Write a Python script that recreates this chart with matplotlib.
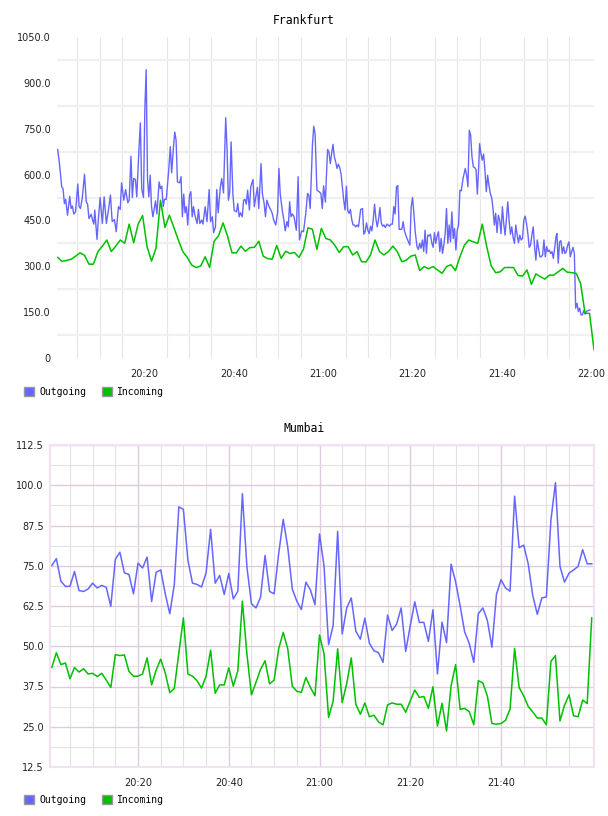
import matplotlib
matplotlib.use("Agg")
import matplotlib.pyplot as plt
import numpy as np
from matplotlib.patches import Patch
from matplotlib.ticker import FixedLocator, FuncFormatter

# czas w minutach po 20:00
fr_out_t = [0.6, 1.0, 1.5, 1.8, 2.1, 2.4, 2.8, 3.3, 3.6, 3.9,
            4.2, 4.6, 5.1, 5.4, 5.7, 6.1, 6.6, 7.0, 7.3, 7.6,
            8.1, 8.4, 8.7, 8.9, 9.4, 9.7, 10.1, 10.6, 11.0, 11.5,
            11.9, 12.4, 12.8, 13.3, 13.7, 14.2, 14.6, 14.9, 15.4, 15.8,
            16.3, 16.6, 17.0, 17.3, 17.6, 18.0, 18.3, 18.8, 19.1, 19.4,
            19.8, 20.1, 20.4, 20.7, 21.0, 21.3, 21.6, 21.9, 22.2, 22.5,
            22.8, 23.3, 23.6, 23.9, 24.2, 24.5, 24.9, 25.4, 25.8, 26.1,
            26.5, 26.8, 27.1, 27.4, 27.9, 28.2, 28.5, 28.8, 29.1, 29.4,
            29.7, 30.1, 30.4, 30.7, 31.0, 31.3, 31.8, 32.1, 32.4, 32.8,
            33.1, 33.6, 34.0, 34.5, 34.8, 35.2, 35.5, 35.9, 36.2, 36.5,
            37.0, 37.3, 37.7, 38.2, 38.5, 38.8, 39.1, 39.4, 39.8, 40.1,
            40.6, 40.9, 41.2, 41.5, 41.9, 42.2, 42.5, 42.8, 43.1, 43.5,
            43.8, 44.3, 44.6, 45.0, 45.3, 45.6, 46.1, 46.4, 46.8, 47.1,
            47.4, 47.9, 48.3, 48.6, 48.9, 49.4, 49.8, 50.1, 50.4, 50.9,
            51.2, 51.5, 51.9, 52.2, 52.5, 52.8, 53.1, 53.5, 54.0, 54.4,
            54.7, 55.2, 55.6, 56.1, 56.5, 56.8, 57.1, 57.6, 57.9, 58.2,
            58.6, 59.1, 59.5, 59.8,
            60.1, 60.5, 60.8, 61.0, 61.3, 61.6, 61.9, 62.2, 62.5, 62.8,
            63.1, 63.4, 63.7, 64.0, 64.3, 64.6, 64.9, 65.2, 65.5, 65.8,
            66.1, 66.4, 66.7, 67.0, 67.3, 67.6, 67.9, 68.4, 68.8, 69.1,
            69.4, 69.7, 70.0, 70.3, 70.6, 70.9, 71.2, 71.5, 71.8, 72.1,
            72.4, 72.7, 73.0, 73.3, 73.6, 73.9, 74.3, 74.8, 75.2, 75.5,
            75.8, 76.1, 76.4, 76.7, 77.0, 77.6, 77.9, 78.2, 78.6, 79.1,
            79.4, 79.7, 80.0, 80.3, 80.6, 81.0, 81.3, 81.6, 81.9, 82.2,
            82.5, 82.8, 83.1, 83.4, 83.7, 84.0, 84.3, 84.6, 84.9, 85.2,
            85.5, 85.8, 86.1, 86.4, 86.7, 87.0, 87.3, 87.6, 87.9, 88.2,
            88.5, 88.8, 89.1, 89.4, 89.7, 90.0, 90.3, 90.6, 90.9, 91.3,
            91.8, 92.1, 92.4, 92.7, 93.0, 93.3, 93.6, 93.9, 94.2, 94.5,
            94.8, 95.0, 95.3, 95.6, 95.9, 96.2, 96.5, 96.8, 97.1, 97.4,
            97.7, 98.0, 98.3, 98.6, 98.9, 99.2, 99.5, 99.8, 100.1, 100.4,
            100.7, 101.0, 101.3, 101.6, 101.9, 102.2, 102.5, 102.8, 103.1, 103.4,
            103.7, 104.0, 104.3, 104.6, 104.9, 105.2, 105.5, 105.8, 106.1, 106.4,
            106.7, 107.0, 107.3, 107.6, 107.9, 108.2, 108.5, 108.8, 109.1, 109.4,
            109.7, 110.0, 110.3, 110.6, 110.9, 111.2, 111.5, 111.8, 112.1, 112.3,
            112.6, 112.9, 113.2, 113.5, 113.8, 114.1, 114.4, 114.7, 115.0, 115.3,
            115.6, 115.9, 116.2, 116.5, 116.8, 117.1, 117.4, 117.7, 118.0, 118.3,
            118.6, 118.9, 119.2, 119.7]
fr_out_v = [682, 636, 560, 554, 505, 519, 467, 529, 489, 497,
            471, 478, 569, 495, 489, 522, 601, 511, 503, 456,
            470, 451, 438, 484, 388, 453, 525, 440, 527, 440,
            478, 533, 446, 453, 413, 495, 486, 573, 516, 551,
            508, 516, 660, 525, 587, 584, 527, 687, 769, 554,
            525, 812, 943, 587, 527, 598, 495, 462, 489, 514,
            471, 576, 554, 562, 495, 519, 519, 606, 691, 606,
            688, 739, 712, 576, 573, 593, 462, 536, 475, 495,
            435, 533, 544, 462, 495, 467, 440, 486, 440, 451,
            438, 495, 446, 551, 446, 462, 410, 429, 551, 475,
            560, 587, 540, 786, 682, 516, 544, 707, 538, 482,
            478, 505, 462, 475, 462, 516, 519, 503, 549, 484,
            560, 584, 495, 533, 558, 489, 636, 538, 505, 462,
            516, 495, 484, 473, 453, 435, 475, 620, 536, 478,
            453, 416, 446, 429, 511, 462, 471, 462, 418, 593,
            386, 416, 413, 471, 538, 533, 489, 696, 758, 734,
            549, 544, 538, 489,
            563, 510, 620, 682, 674, 636, 669, 699, 658, 642,
            620, 634, 623, 603, 560, 516, 484, 562, 482, 473,
            486, 453, 435, 435, 429, 435, 429, 486, 489, 405,
            413, 442, 418, 407, 431, 416, 451, 503, 456, 429,
            453, 492, 442, 431, 435, 427, 438, 431, 438, 438,
            495, 471, 560, 564, 421, 421, 446, 416, 397, 380,
            369, 495, 525, 473, 413, 364, 355, 375, 359, 386,
            348, 418, 342, 402, 399, 405, 377, 362, 410, 375,
            399, 413, 348, 391, 342, 369, 407, 489, 375, 435,
            380, 478, 391, 424, 353, 418, 435, 549, 547, 587,
            620, 598, 560, 745, 729, 658, 625, 623, 616, 536,
            625, 701, 669, 647, 667, 614, 544, 598, 565, 538,
            525, 489, 435, 473, 410, 467, 451, 407, 495, 440,
            402, 453, 511, 451, 405, 429, 394, 375, 435, 402,
            377, 402, 386, 391, 451, 464, 440, 407, 362, 369,
            402, 429, 364, 320, 386, 359, 331, 331, 337, 386,
            331, 364, 348, 353, 342, 348, 326, 359, 397, 407,
            310, 380, 384, 342, 364, 342, 348, 369, 380, 331,
            348, 362, 342, 163, 179, 152, 163, 141, 141, 155,
            144, 152, 155, 157]

# Incoming Frankfurt - co minute od 20:00:36
fr_in_start = 0.6
fr_in_v = [329, 316, 319, 323, 333, 344, 336, 307, 307, 348,
           366, 386, 348, 366, 386, 375, 438, 377, 438, 466,
           364, 317, 359, 516, 427, 467, 427, 386, 348, 329,
           304, 296, 301, 331, 296, 382, 400, 442, 399, 344,
           344, 366, 349, 361, 362, 382, 333, 325, 323, 368,
           326, 349, 342, 345, 329, 356, 426, 421, 355, 424,
           391, 386, 369, 345, 364, 364, 337, 348, 315, 314,
           337, 386, 348, 337, 348, 366, 348, 315, 320, 333,
           337, 286, 299, 292, 299, 288, 277, 299, 305, 286,
           331, 369, 386, 380, 375, 438, 364, 301, 279, 282,
           296, 296, 296, 270, 268, 288, 241, 275, 266, 258,
           271, 271, 282, 293, 281, 279, 277, 244, 146, 146,
           27]

# Mumbai - co minute od 20:01
mb_start = 1.0
mb_out = [75.1, 77.2, 70.2, 68.6, 68.6, 73.2, 67.3, 67.0, 67.8, 69.6,
          68.1, 68.9, 68.3, 62.4, 77.0, 79.2, 72.8, 72.3, 66.3, 75.8,
          74.3, 77.7, 63.9, 73.0, 73.7, 66.3, 60.1, 69.2, 93.3, 92.5,
          76.7, 69.6, 69.2, 68.4, 72.8, 86.3, 69.6, 72.0, 66.1, 72.6,
          64.7, 67.1, 97.4, 74.6, 63.2, 61.9, 65.2, 78.2, 67.0, 66.3,
          78.7, 89.4, 80.8, 67.8, 64.0, 61.4, 69.9, 67.5, 62.9, 84.9,
          74.8, 50.5, 56.4, 85.7, 53.8, 61.9, 65.0, 54.7, 52.2, 58.7,
          50.9, 48.6, 48.0, 45.0, 59.7, 54.9, 56.9, 61.9, 48.4, 56.4,
          63.8, 57.4, 57.4, 51.5, 61.3, 41.4, 57.5, 51.1, 75.5, 70.0,
          62.5, 54.4, 50.9, 45.0, 60.1, 61.9, 58.0, 49.7, 66.1, 70.7,
          68.1, 67.1, 96.6, 80.6, 81.4, 75.6, 65.8, 59.9, 65.0, 65.3,
          89.1, 100.8, 74.8, 69.9, 72.7, 73.7, 74.8, 80.0, 75.6, 75.6]
mb_in = [43.4, 48.0, 44.3, 44.8, 39.9, 43.4, 42.0, 43.0, 41.4, 41.6,
         40.6, 41.6, 39.5, 37.2, 47.4, 47.1, 47.3, 42.2, 40.7, 40.7,
         41.4, 46.4, 38.0, 42.6, 46.0, 41.7, 35.6, 36.9, 48.0, 58.8,
         41.4, 40.7, 39.3, 37.0, 40.7, 48.8, 35.4, 38.0, 38.0, 43.3,
         37.6, 42.4, 64.0, 47.6, 34.9, 38.8, 42.8, 45.5, 38.3, 39.5,
         49.2, 54.3, 49.2, 37.6, 36.0, 35.7, 40.3, 37.2, 34.6, 53.5,
         47.6, 27.9, 32.9, 49.2, 32.5, 38.4, 46.4, 32.0, 28.9, 32.4,
         28.1, 28.6, 26.5, 25.6, 31.8, 32.4, 32.0, 32.0, 29.5, 33.0,
         36.4, 34.1, 34.4, 30.7, 37.4, 25.2, 32.3, 23.7, 37.7, 44.3,
         30.4, 30.7, 29.7, 25.6, 39.3, 38.6, 34.5, 26.0, 25.8, 26.0,
         27.0, 30.5, 49.3, 37.2, 34.6, 31.3, 29.6, 27.7, 27.7, 25.6,
         45.3, 47.1, 26.8, 31.7, 34.9, 28.4, 28.1, 33.3, 32.2, 58.8]

NIEBIESKI = "#6666ff"
ZIELONY = "#00c000"
MONO = "DejaVu Sans Mono"


def hhmm(x, pos):
    m = int(round(x))
    return f"{20 + m // 60}:{m % 60:02d}"


def legenda(fig, y_px):
    uchwyty = [Patch(facecolor=NIEBIESKI, edgecolor="#999999", linewidth=1.0),
               Patch(facecolor=ZIELONY, edgecolor="#999999", linewidth=1.0)]
    fig.legend(uchwyty, ["Outgoing", "Incoming"], loc="upper left",
               bbox_to_anchor=(24 / 608, 1 - y_px / 816), ncol=2, frameon=False,
               borderpad=0, borderaxespad=0, handlelength=1.05, handleheight=1.05,
               handletextpad=0.5, columnspacing=1.6, prop={"family": MONO, "size": 7})


def wspolne(ax, xlim):
    ax.set_xlim(*xlim)
    ax.xaxis.set_major_formatter(FuncFormatter(hhmm))
    ax.tick_params(axis="both", length=0, labelsize=7, colors="#222222")
    ax.tick_params(axis="x", pad=8)
    ax.tick_params(axis="y", pad=4.5)
    ax.set_axisbelow(True)


fig = plt.figure(figsize=(6.08, 8.16), dpi=100)

# --- Frankfurt ---
ax1 = fig.add_axes([57 / 608, 1 - 358 / 816, 537 / 608, 321 / 816])
wspolne(ax1, (0.45, 120.6))
ax1.set_ylim(0, 1050)
ax1.yaxis.set_major_locator(FixedLocator(np.arange(0, 1051, 150)))
ax1.yaxis.set_minor_locator(FixedLocator(np.arange(75, 1050, 150)))
ax1.yaxis.set_major_formatter(FuncFormatter(lambda v, p: "0" if v == 0 else f"{v:.1f}"))
ax1.xaxis.set_major_locator(FixedLocator(np.arange(20, 121, 20)))
ax1.xaxis.set_minor_locator(FixedLocator(np.arange(5, 121, 5)))
ax1.tick_params(which="minor", length=0)
ax1.grid(axis="y", which="minor", color="#f0f0f0", linewidth=1.6)
ax1.grid(axis="x", which="minor", color="#e6e6e6", linewidth=0.8)
for s in ax1.spines.values():
    s.set_visible(False)

fr_in_t = fr_in_start + np.arange(len(fr_in_v))
ax1.plot(fr_out_t, fr_out_v, color=NIEBIESKI, linewidth=1.0)
ax1.plot(fr_in_t, fr_in_v, color=ZIELONY, linewidth=1.1)
fig.text(0.5, 1 - 20 / 816, "Frankfurt", ha="center", va="center", family=MONO, fontsize=8.3)
legenda(fig, 387)

# --- Mumbai ---
ax2 = fig.add_axes([50 / 608, 1 - 767 / 816, 544 / 608, 322 / 816])
wspolne(ax2, (0.6, 120.5))
ax2.set_ylim(12.5, 112.5)
ax2.yaxis.set_major_locator(FixedLocator(np.arange(12.5, 112.6, 12.5)))
ax2.yaxis.set_minor_locator(FixedLocator(np.arange(18.75, 112.5, 12.5)))
ax2.yaxis.set_major_formatter(FuncFormatter(lambda v, p: f"{v:.1f}"))
ax2.xaxis.set_major_locator(FixedLocator(np.arange(20, 101, 20)))
ax2.xaxis.set_minor_locator(FixedLocator([m for m in range(5, 121, 5) if m % 20]))
ax2.tick_params(which="minor", length=0)
ax2.grid(which="minor", color="#e4e0e4", linewidth=0.8)
ax2.grid(which="major", color="#e0cae0", linewidth=1.0)
for s in ax2.spines.values():
    s.set_color("#f0e2f0")
    s.set_linewidth(1.5)

mb_t = mb_start + np.arange(len(mb_out))
ax2.plot(mb_t, mb_out, color=NIEBIESKI, linewidth=1.1)
ax2.plot(mb_t, mb_in, color=ZIELONY, linewidth=1.1)
fig.text(0.5, 1 - 428 / 816, "Mumbai", ha="center", va="center", family=MONO, fontsize=8.3)
legenda(fig, 795)

fig.savefig("out.png", dpi=100)
